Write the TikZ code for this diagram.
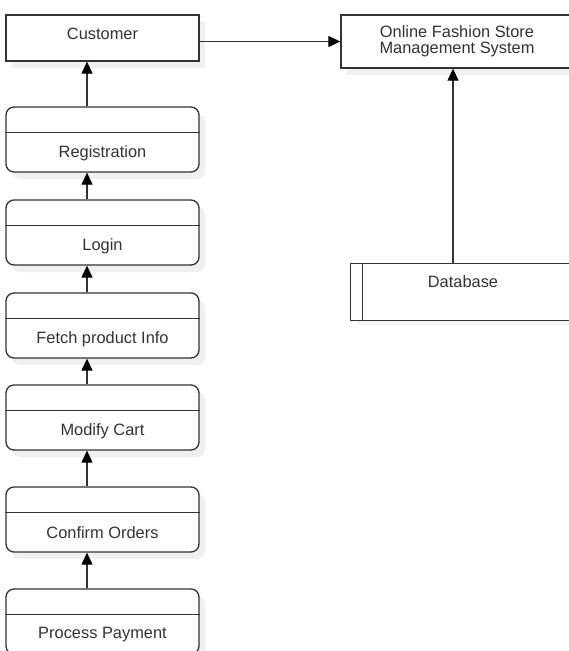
\documentclass[tikz,border=0pt]{standalone}
\usepackage{fontspec}
\setmainfont{Liberation Sans}
\usetikzlibrary{arrows.meta,shadows,calc}
\definecolor{ink}{HTML}{333333}
\definecolor{shade}{HTML}{F0F0F0}
\begin{document}
\begin{tikzpicture}[x=1pt,y=-1pt,
  every node/.style={font=\fontsize{16.4}{15.5}\selectfont, text=ink},
  boxshadow/.style={drop shadow={shadow xshift=6pt,shadow yshift=-7pt,fill=shade,opacity=1}},
  entity/.style={draw=ink,line width=1.3pt,fill=white,boxshadow,inner sep=0pt,align=center},
  procbox/.style={draw=ink,line width=1.3pt,fill=white,rounded corners=8pt,boxshadow,
    minimum width=193pt,minimum height=65pt,inner sep=0pt},
  divider/.style={draw=ink,line width=1.3pt},
  flow/.style={draw=ink,line width=1.2pt,-{Triangle[length=12pt,width=11pt,color=black]}},
  ]
\clip (0,0) rectangle (569,651);
\fill[white] (0,0) rectangle (569,651);

% external entities
\node[entity,minimum width=193pt,minimum height=46pt] (cust) at (102.5,38) {};
\node (cust-txt) at (102.5,33.5) {Customer};
\node[entity,minimum width=232pt,minimum height=53pt] (onl) at (457,41.5)
  {Online Fashion Store\\Management System};

% process chain
\coordinate (spine) at (87,0);
\foreach \name/\top/\txt in {reg/107/Registration, login/200/Login,
    fetch/293/Fetch product Info, cart/385/Modify Cart,
    orders/487/Confirm Orders, pay/589/Process Payment}{
  \node[procbox] (\name) at (102.5,\top+32.5) {};
  \draw[divider] ($(\name.north west)+(0,26)$) -- ($(\name.north east)+(0,26)$);
  \node (\name-txt) at (102.5,\top+46) {\txt};
}

% data store
\fill[shade] (357,271) rectangle (580,327);
\node[fill=white,minimum width=224pt,minimum height=56pt,inner sep=0pt] (db) at (463,292) {};
\draw[ink,line width=1.3pt] (db.north east) -- (db.north west) -- (db.south west) -- (db.south east);
\draw[ink,line width=1.3pt] ($(db.north west)+(12,0)$) -- ($(db.south west)+(12,0)$);
\node (db-txt) at (463,282) {Database};
\coordinate (dbx) at (453,0);

% flows
\draw[flow] (cust.east |- onl.west) -- (onl.west);
\draw[flow] (db.north -| dbx) -- (onl.south -| dbx);
\draw[flow] (reg.north -| spine) -- (cust.south -| spine);
\draw[flow] (login.north -| spine) -- (reg.south -| spine);
\draw[flow] (fetch.north -| spine) -- (login.south -| spine);
\draw[flow] (cart.north -| spine) -- (fetch.south -| spine);
\draw[flow] (orders.north -| spine) -- (cart.south -| spine);
\draw[flow] (pay.north -| spine) -- (orders.south -| spine);
\end{tikzpicture}
\end{document}
